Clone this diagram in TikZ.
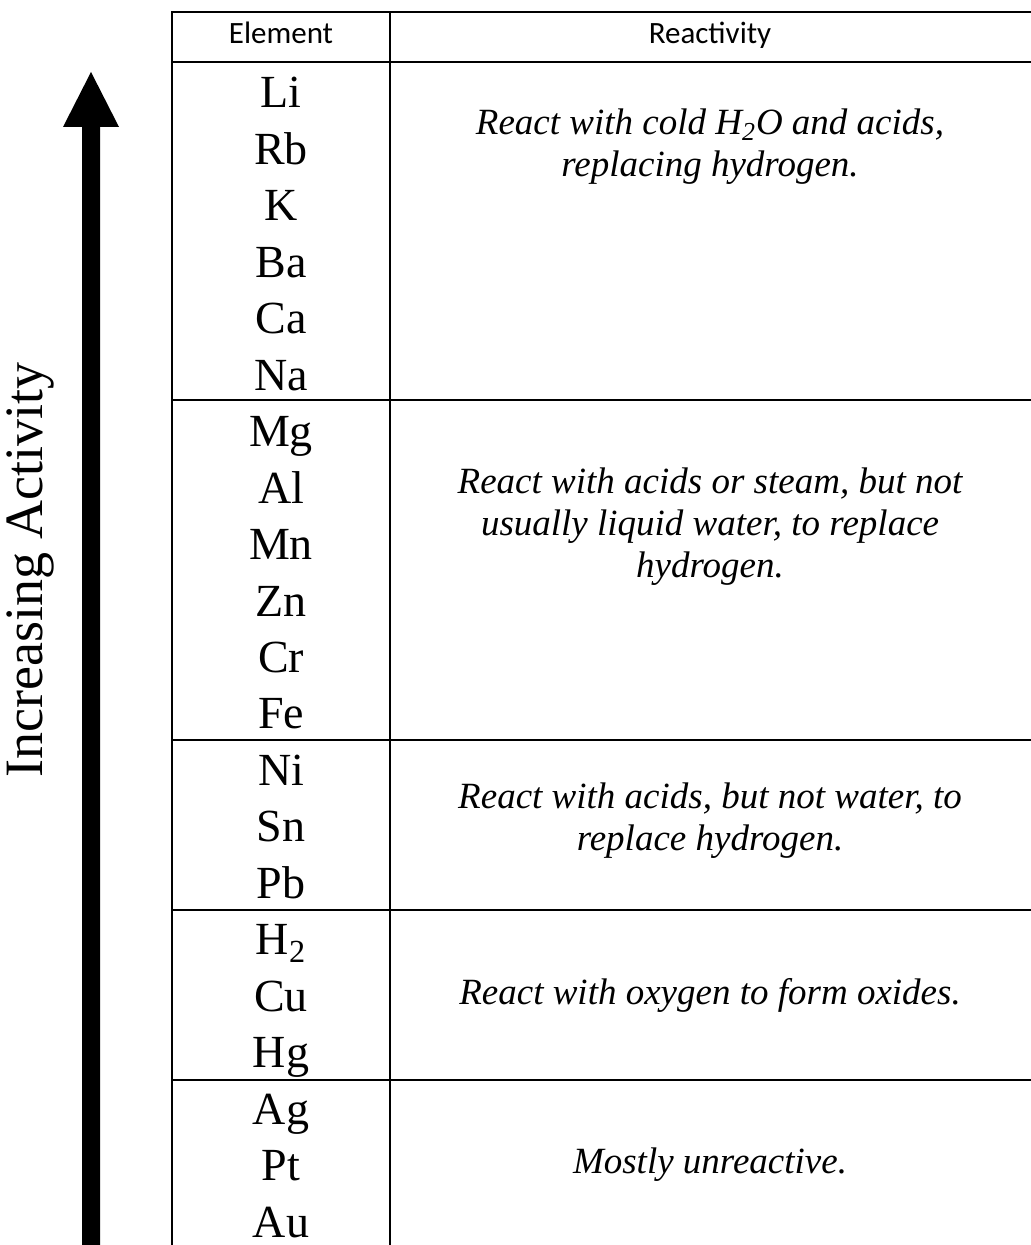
\documentclass[tikz,border=0pt]{standalone}
\usepackage{fontspec}
\setmainfont{Liberation Serif}
\newfontfamily\headfont{Carlito}

\tikzset{
  element/.style={anchor=base,font=\fontsize{23}{27}\selectfont},
  reaction/.style={align=center,font=\fontsize{18.5}{21}\selectfont\itshape},
  heading/.style={anchor=base,font=\fontsize{15.5}{18}\selectfont\headfont},
  sidelabel/.style={rotate=90,font=\fontsize{27}{30}\selectfont},
}

\begin{document}
\begin{tikzpicture}[x=0.5pt,y=-0.5pt,line width=1.3pt]
    \useasboundingbox (0,0) rectangle (1031,1245);

    % arrow and its label
    \fill (82,1250) -- (82,127) -- (63,127) -- (91,72) -- (119,127)
        -- (100,127) -- (100,1250) -- cycle;
    \node[sidelabel] (activity) at (30,570) {Increasing Activity};

    % table
    \draw (172,12) rectangle (1033,1250);
    \draw (390,12) -- (390,1250);
    \draw (172,62) -- (1033,62);
    \draw (172,400) -- (1033,400);
    \draw (172,740) -- (1033,740);
    \draw (172,910) -- (1033,910);
    \draw (172,1080) -- (1033,1080);

    \node[heading] (elhead) at (281,44) {Element};
    \node[heading] (rxhead) at (710,44) {Reactivity};

    % elements
    \node[element] (li) at (281,108) {Li};
    \node[element] (rb) at (281,164.45) {Rb};
    \node[element] (k)  at (281,220.9) {K};
    \node[element] (ba) at (281,277.35) {Ba};
    \node[element] (ca) at (281,333.8) {Ca};
    \node[element] (na) at (281,390.25) {Na};
    \node[element] (mg) at (281,446.7) {Mg};
    \node[element] (al) at (281,503.15) {Al};
    \node[element] (mn) at (281,559.6) {Mn};
    \node[element] (zn) at (281,616.05) {Zn};
    \node[element] (cr) at (281,672.5) {Cr};
    \node[element] (fe) at (281,728.95) {Fe};
    \node[element] (ni) at (281,785.4) {Ni};
    \node[element] (sn) at (281,841.85) {Sn};
    \node[element] (pb) at (281,898.3) {Pb};
    \node[element] (h2) at (281,954.75) {H\textsubscript{2}};
    \node[element] (cu) at (281,1011.2) {Cu};
    \node[element] (hg) at (281,1067.65) {Hg};
    \node[element] (ag) at (281,1124.1) {Ag};
    \node[element] (pt) at (281,1180.55) {Pt};
    \node[element] (au) at (281,1237) {Au};

    % reactivity
    \node[reaction] (rx1) at (710,147)
        {React with cold H\textsubscript{2}O and acids,\\replacing hydrogen.};
    \node[reaction] (rx2) at (710,527)
        {React with acids or steam, but not\\usually liquid water, to replace\\hydrogen.};
    \node[reaction] (rx3) at (710,821)
        {React with acids, but not water, to\\replace hydrogen.};
    \node[reaction] (rx4) at (710,995) {React with oxygen to form oxides.};
    \node[reaction] (rx5) at (710,1165) {Mostly unreactive.};
\end{tikzpicture}
\end{document}
